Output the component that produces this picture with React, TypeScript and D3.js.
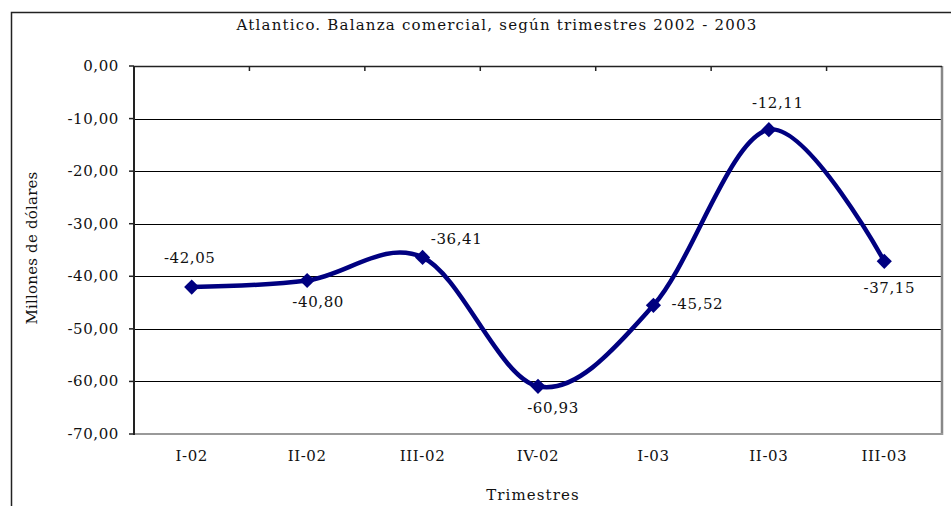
import React, { useEffect } from 'react';
import * as d3 from 'd3';

// trimestres y balanza comercial (millones de dólares)
const quarters = ['I-02', 'II-02', 'III-02', 'IV-02', 'I-03', 'II-03', 'III-03'];
const balance = [-42.05, -40.8, -36.41, -60.93, -45.52, -12.11, -37.15];
const yTicks = [0, -10, -20, -30, -40, -50, -60, -70];

// where each value label sits relative to its marker
const labelOffsets = [
  [-2, -29],
  [11, 22],
  [34, -18],
  [15, 22],
  [44, -1],
  [9, -27],
  [5, 27]
];

const W = 951;
const H = 506;
const plot = { left: 134, top: 66, right: 942, bottom: 434 };
const font = '"DejaVu Serif", serif';
const navy = '#000080';

const fmt = (v: number) => v.toFixed(2).replace('.', ',');

export default function App() {
  useEffect(() => {
    document.body.style.margin = '0';
  }, []);

  const x = d3
    .scaleBand()
    .domain(quarters)
    .range([plot.left, plot.right]);
  const y = d3.scaleLinear().domain([-70, 0]).range([plot.bottom, plot.top]);

  const pts: [number, number][] = balance.map((v, i) => [
    x(quarters[i])! + x.bandwidth() / 2,
    y(v)
  ]);
  const line = d3.line().curve(d3.curveCatmullRom.alpha(0))(pts) || '';
  const diamond = d3.symbol(d3.symbolSquare, 115)() || '';

  const boundaries = quarters.slice(1).map(q => x(q)!);

  const txt = { fontFamily: font, fontSize: 15, letterSpacing: 0.6, fill: '#111' };

  return (
    <svg width={W} height={H} style={{ display: 'block', background: '#fff' }}>
      {/* outer chart frame (cut by the picture on right and bottom) */}
      <path
        d={`M11.5,${H + 2} V12.5 H${W + 2}`}
        fill="none"
        stroke="#222"
        strokeWidth={1.5}
      />
      <text x={497} y={25} textAnchor="middle" dominantBaseline="central" {...txt} letterSpacing={1.2}>
        Atlantico. Balanza comercial, según trimestres 2002 - 2003
      </text>

      {/* gridlines */}
      {yTicks.map(t => (
        <line
          key={'g' + t}
          x1={plot.left}
          x2={plot.right}
          y1={Math.round(y(t)) + 0.5}
          y2={Math.round(y(t)) + 0.5}
          stroke="#000"
          strokeWidth={1}
        />
      ))}
      {/* plot border: gray right / bottom */}
      <line x1={plot.right} x2={plot.right} y1={plot.top} y2={plot.bottom + 1} stroke="#888" strokeWidth={2.5} />
      <line x1={plot.left} x2={plot.right + 1} y1={plot.bottom} y2={plot.bottom} stroke="#999" strokeWidth={2} />
      {/* category axis at zero (top) */}
      <line x1={plot.left} x2={plot.right} y1={plot.top + 0.5} y2={plot.top + 0.5} stroke="#222" strokeWidth={1.5} />
      {boundaries.map((b, i) => (
        <line key={'ct' + i} x1={b} x2={b} y1={plot.top} y2={plot.top + 5} stroke="#222" strokeWidth={1.5} />
      ))}
      {/* value axis */}
      <line x1={plot.left} x2={plot.left} y1={plot.top} y2={plot.bottom + 1} stroke="#222" strokeWidth={2} />
      {yTicks.map(t => (
        <g key={'t' + t}>
          <line x1={plot.left - 5} x2={plot.left} y1={y(t)} y2={y(t)} stroke="#222" strokeWidth={1.5} />
          <text x={plot.left - 15} y={y(t)} textAnchor="end" dominantBaseline="central" {...txt}>
            {fmt(t)}
          </text>
        </g>
      ))}
      {quarters.map(q => (
        <text
          key={q}
          x={x(q)! + x.bandwidth() / 2}
          y={456}
          textAnchor="middle"
          dominantBaseline="central"
          {...txt}
        >
          {q}
        </text>
      ))}

      <text x={533} y={495} textAnchor="middle" dominantBaseline="central" {...txt} letterSpacing={1.1}>
        Trimestres
      </text>
      <text
        transform={`translate(32,248) rotate(-90)`}
        textAnchor="middle"
        dominantBaseline="central"
        {...txt}
        letterSpacing={0.2}
      >
        Millones de dólares
      </text>

      {/* series */}
      <path d={line} fill="none" stroke={navy} strokeWidth={4.5} strokeLinejoin="round" />
      {pts.map(([px, py], i) => (
        <path key={'m' + i} d={diamond} transform={`translate(${px},${py}) rotate(45)`} fill={navy} />
      ))}
      {pts.map(([px, py], i) => (
        <text
          key={'l' + i}
          x={px + labelOffsets[i][0]}
          y={py + labelOffsets[i][1]}
          textAnchor="middle"
          dominantBaseline="central"
          {...txt}
        >
          {fmt(balance[i])}
        </text>
      ))}
    </svg>
  );
}
